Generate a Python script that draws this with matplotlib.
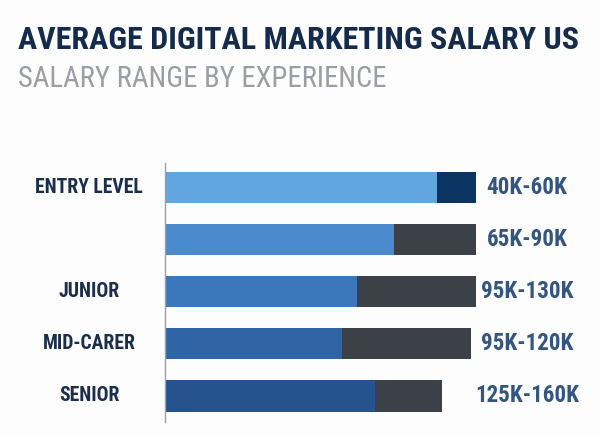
#!/usr/bin/env python3
"""Average digital marketing salary (US) by experience, horizontal stacked bars."""

import matplotlib

matplotlib.use("Agg")

import matplotlib.pyplot as plt
import matplotlib.transforms as mtransforms

# data (bar lengths in chart units)
levels = ["ENTRY LEVEL", "", "JUNIOR", "MID-CARER", "SENIOR"]
range_labels = ["40K-60K", "65K-90K", "95K-130K", "95K-120K", "125K-160K"]
base_len = [272, 229, 192, 177, 210]
extra_len = [39, 82, 119, 129, 67]

base_colors = ["#62a6e0", "#4a89cb", "#3b77ba", "#2f65a5", "#26528e"]
extra_colors = ["#0b3463", "#3c4047", "#3c4047", "#3c4047", "#3c4047"]

TITLE_COL = "#142b4c"
SUB_COL = "#9b9ea4"
LABEL_COL = "#1b2f4d"
VALUE_COL = "#34557f"

FAMILY = ["Roboto Condensed", "DejaVu Sans Condensed", "Open Sans Condensed", "Roboto", "DejaVu Sans"]
FONT = dict(family=FAMILY, fontweight="bold")


def fit_width(fig, txt, width_px):
    # shrink/grow a text so it spans roughly width_px pixels
    r = fig.canvas.get_renderer()
    w = txt.get_window_extent(r).width
    txt.set_fontsize(txt.get_fontsize() * width_px / w)


def main() -> None:
    fig = plt.figure(figsize=(6.0, 4.34), dpi=100)
    fig.patch.set_facecolor("#fdfdfd")

    ax = fig.add_axes([165 / 600, 1 - 422 / 434, 435 / 600, (422 - 163) / 434])
    ax.set_facecolor("none")

    ypos = list(range(len(levels)))
    ax.barh(ypos, base_len, height=0.6, color=base_colors, zorder=2)
    ax.barh(ypos, extra_len, left=base_len, height=0.6, color=extra_colors, zorder=2)

    ax.set_xlim(0, 435)
    ax.set_ylim(4.5, -0.47)
    ax.set_xticks([])
    ax.set_yticks([])
    for side in ("top", "right", "bottom"):
        ax.spines[side].set_visible(False)
    ax.spines["left"].set_color("#9aa0a8")
    ax.spines["left"].set_linewidth(1.0)

    # category labels to the left, value ranges to the right
    left_tr = mtransforms.blended_transform_factory(fig.transFigure, ax.transData)
    right_tr = mtransforms.blended_transform_factory(ax.transAxes, ax.transData)
    probe_l = ax.text(0, 0, "ENTRY LEVEL", fontsize=15, **FONT)
    probe_r = ax.text(0, 0, "125K-160K", fontsize=15, **FONT)
    fit_width(fig, probe_l, 108)
    fit_width(fig, probe_r, 104)
    lsize, rsize = probe_l.get_fontsize(), probe_r.get_fontsize()
    probe_l.remove()
    probe_r.remove()

    for y, name, rng in zip(ypos, levels, range_labels):
        ax.text(89 / 600, y, name, transform=left_tr, ha="center", va="center",
                fontsize=lsize, color=LABEL_COL, **FONT)
        ax.text((527 - 165) / 435, y, rng, transform=right_tr, ha="center", va="center",
                fontsize=rsize, color=VALUE_COL, **FONT)

    title = fig.text(18 / 600, 1 - 40 / 434, "AVERAGE DIGITAL MARKETING SALARY US", ha="left", va="center",
                     fontsize=25, color=TITLE_COL, **FONT)
    sub = fig.text(18 / 600, 1 - 79 / 434, "SALARY RANGE BY EXPERIENCE", ha="left", va="center",
                   fontsize=21, color=SUB_COL, family=FAMILY)
    fit_width(fig, title, 562)
    fit_width(fig, sub, 368)

    fig.savefig("out.png", dpi=100)
    plt.close(fig)


if __name__ == "__main__":
    main()
